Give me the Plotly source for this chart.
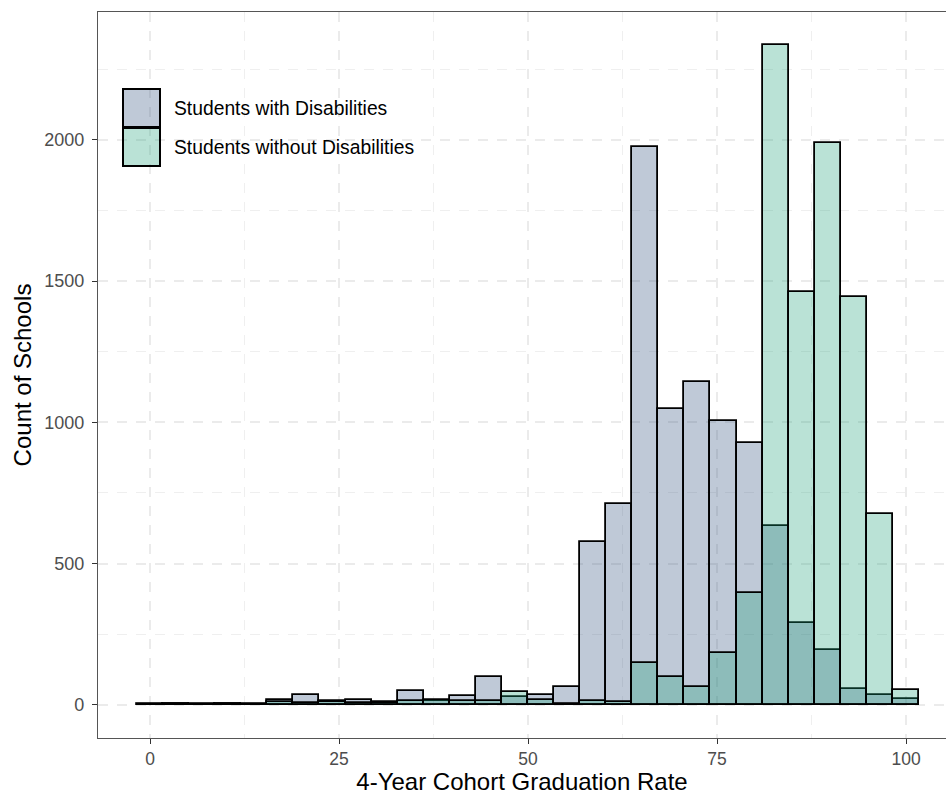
import plotly.graph_objects as go

# Bin centers (30 bins, width ~3.448) of the graduation-rate histogram
bin_centers = [0, 3.45, 6.9, 10.34, 13.79, 17.24, 20.69, 24.14, 27.59, 31.03,
               34.48, 37.93, 41.38, 44.83, 48.28, 51.72, 55.17, 58.62, 62.07, 65.52,
               68.97, 72.41, 75.86, 79.31, 82.76, 86.21, 89.66, 93.1, 96.55, 100]
bin_width = 3.448

swd_counts = [2, 5, 2, 4, 2, 17, 35, 14, 17, 10,
              50, 14, 30, 100, 28, 35, 63, 577, 711, 1975,
              1047, 1142, 1004, 928, 634, 289, 195, 55, 35, 20]
nonswd_counts = [1, 2, 1, 2, 1, 10, 8, 12, 8, 8,
                 15, 18, 14, 14, 46, 17, 4, 15, 10, 147,
                 100, 65, 183, 395, 2335, 1460, 1988, 1445, 675, 53]

series_names = ["Students with Disabilities", "Students without Disabilities"]
series_fill = ["rgba(42,75,122,0.3)", "rgba(27,158,119,0.3)"]

x_ticks = [0, 25, 50, 75, 100]
y_ticks = [0, 500, 1000, 1500, 2000]

FONT = "Liberation Sans, Arial, Helvetica, sans-serif"

fig = go.Figure()
for name, vals, fill in zip(series_names, [swd_counts, nonswd_counts], series_fill):
    fig.add_trace(go.Bar(
        x=bin_centers, y=vals, width=bin_width, name=name,
        marker=dict(color=fill, line=dict(color="black", width=1.8)),
        showlegend=False,
    ))

# Legend drawn inside the panel (large ggplot-style keys)
L, T, W, H = 98, 12, 848, 726
def px2paper(px, py):
    return (px - L) / W, (T + H - py) / H

key_boxes = [(123, 89, 160, 127), (123, 128, 160, 166)]
text_y = [108, 147]
for (x0, y0, x1, y1), fill, name, ty in zip(key_boxes, series_fill, series_names, text_y):
    a0, b1 = px2paper(x0, y0)
    a1, b0 = px2paper(x1, y1)
    fig.add_shape(type="rect", xref="paper", yref="paper", x0=a0, x1=a1, y0=b0, y1=b1,
                  fillcolor=fill, line=dict(color="black", width=2))
    tx, tyy = px2paper(172, ty)
    fig.add_annotation(xref="paper", yref="paper", x=tx, y=tyy, text=name,
                       showarrow=False, xanchor="left", yanchor="middle",
                       font=dict(family=FONT, size=19.3, color="black"))

grid_major = dict(showgrid=True, gridcolor="#EBEBEB", gridwidth=1.5, griddash="10px,9px")

fig.update_layout(
    width=946, height=795,
    margin=dict(l=L, r=0, t=T, b=795 - T - H),
    barmode="overlay", bargap=0,
    plot_bgcolor="white", paper_bgcolor="white",
    font=dict(family=FONT),
    xaxis=dict(
        range=[-6.88, 105.29], tickvals=x_ticks, ticktext=[str(v) for v in x_ticks],
        ticks="outside", ticklen=5, tickwidth=1.2, tickcolor="#333333",
        tickfont=dict(family=FONT, size=17.5, color="#4D4D4D"),
        showline=True, linecolor="#555555", linewidth=1.3, mirror=True,
        zeroline=False, **grid_major,
        minor=dict(dtick=12.5, tick0=12.5, showgrid=True, gridcolor="#EFEFEF",
                   gridwidth=1.3, griddash="10px,9px"),
        title=dict(text="4-Year Cohort Graduation Rate", standoff=8,
                   font=dict(family=FONT, size=24, color="black")),
    ),
    yaxis=dict(
        range=[-117, 2452], tickvals=y_ticks, ticktext=[str(v) for v in y_ticks],
        ticks="outside", ticklen=5, tickwidth=1.2, tickcolor="#333333",
        ticklabelstandoff=4,
        tickfont=dict(family=FONT, size=18, color="#4D4D4D"),
        showline=True, linecolor="#555555", linewidth=1.3, mirror=False,
        zeroline=False, **grid_major,
        minor=dict(dtick=500, tick0=250, showgrid=True, gridcolor="#EFEFEF",
                   gridwidth=1.3, griddash="10px,9px"),
        title=dict(text="Count of Schools", standoff=5,
                   font=dict(family=FONT, size=24, color="black")),
    ),
)

fig.write_html("out.html")
